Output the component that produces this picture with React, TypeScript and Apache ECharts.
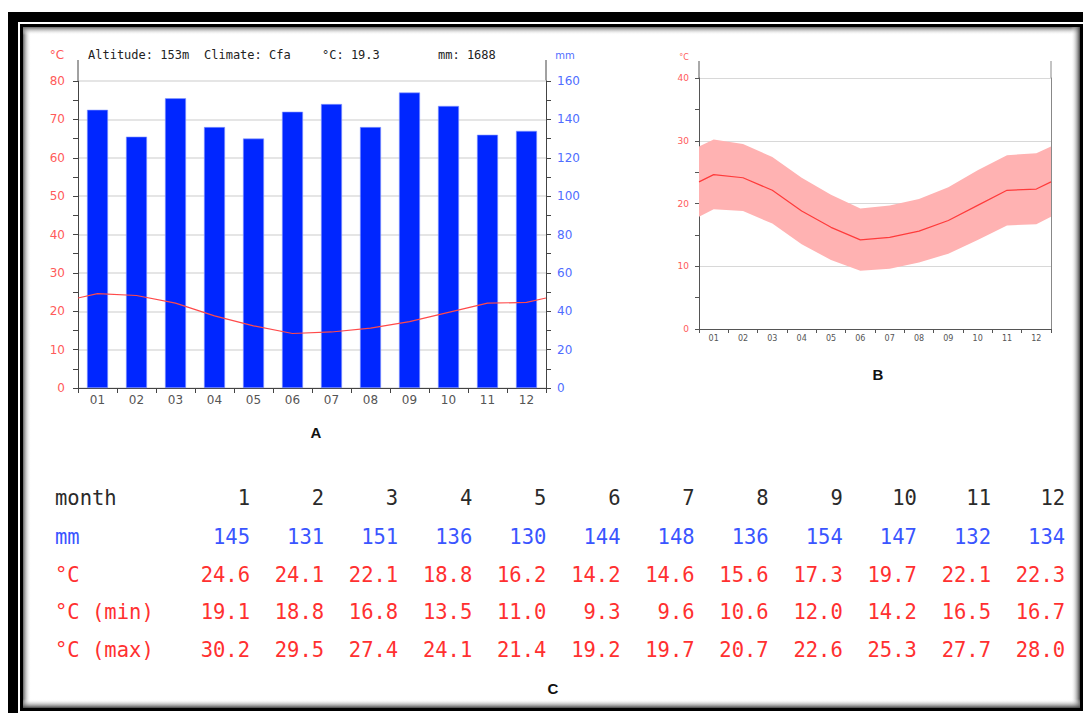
import React, { useEffect, useRef } from "react";
import * as echarts from "echarts";

// ---- data ----
const monthLabels = ["01", "02", "03", "04", "05", "06", "07", "08", "09", "10", "11", "12"];
const monthNumbers = ["1", "2", "3", "4", "5", "6", "7", "8", "9", "10", "11", "12"];
const precipitation = [145, 131, 151, 136, 130, 144, 148, 136, 154, 147, 132, 134];
const tempMean = [24.6, 24.1, 22.1, 18.8, 16.2, 14.2, 14.6, 15.6, 17.3, 19.7, 22.1, 22.3];
const tempMin = [19.1, 18.8, 16.8, 13.5, 11.0, 9.3, 9.6, 10.6, 12.0, 14.2, 16.5, 16.7];
const tempMax = [30.2, 29.5, 27.4, 24.1, 21.4, 19.2, 19.7, 20.7, 22.6, 25.3, 27.7, 28.0];
const altitude = "153m";
const climate = "Cfa";
const tempAxisA = { min: 0, max: 80, interval: 10 };
const precAxisA = { min: 0, max: 160, interval: 20 };
const tempAxisB = { min: 0, max: 40, interval: 10 };

// ---- helpers ----
const edgeValue = (arr: number[]) => (arr[0] + arr[arr.length - 1]) / 2;
const toXY = (arr: number[]) => [
  [0, edgeValue(arr)],
  ...arr.map((v, i) => [i + 0.5, v]),
  [arr.length, edgeValue(arr)],
];

const RED_LABEL = "#ff5a5a";
const BLUE_LABEL = "#4f6dff";
const AXIS = "#444";

export default function App() {
  const ref = useRef<HTMLDivElement>(null);
  useEffect(() => {
    if (!ref.current) return;
    const chart = echarts.init(ref.current, undefined, { renderer: "svg" });

    const annualMean = (tempMean.reduce((a, b) => a + b, 0) / tempMean.length).toFixed(1);
    const annualPrec = precipitation.reduce((a, b) => a + b, 0);

    const lineA = toXY(tempMean);
    const lowerB = toXY(tempMin);
    const upperB = toXY(tempMax);
    const meanB = toXY(tempMean);
    const bandData = lowerB.map((p, i) => [p[0], p[1], upperB[i][1]]);

    // geometry
    const gA = { left: 78, right: 1083 - 546, top: 81, bottom: 713 - 388 };
    const gB = { left: 699, right: 1083 - 1051, top: 78, bottom: 713 - 329 };

    const rows = [
      { label: "month", values: monthNumbers, color: "#2a2a2a" },
      { label: "mm", values: precipitation.map(String), color: "#3a55ff" },
      { label: "°C", values: tempMean.map((v) => v.toFixed(1)), color: "#ff3030" },
      { label: "°C (min)", values: tempMin.map((v) => v.toFixed(1)), color: "#ff3030" },
      { label: "°C (max)", values: tempMax.map((v) => v.toFixed(1)), color: "#ff3030" },
    ];
    const rowY = [498, 537, 575, 612, 650];
    const colRight0 = 250;
    const colStep = 74.1;
    const tableFont = "DejaVu Sans Mono";

    const tableTexts: any[] = [];
    rows.forEach((r, ri) => {
      tableTexts.push({
        type: "text",
        x: 55,
        y: rowY[ri],
        style: { text: r.label, fill: r.color, fontFamily: tableFont, fontSize: 20.5, align: "left", verticalAlign: "middle" },
      });
      r.values.forEach((v, ci) => {
        tableTexts.push({
          type: "text",
          x: colRight0 + colStep * ci,
          y: rowY[ri],
          style: { text: v, fill: r.color, fontFamily: tableFont, fontSize: 20.5, align: "right", verticalAlign: "middle" },
        });
      });
    });

    const hdr = (text: string, x: number, color = "#222", size = 12) => ({
      type: "text",
      x,
      y: 55,
      style: { text, fill: color, fontFamily: "DejaVu Sans Mono", fontSize: size, align: "left", verticalAlign: "middle" },
    });

    const grad = (x2: number, y2: number, c1: string, c2: string) =>
      new echarts.graphic.LinearGradient(0, 0, x2, y2, [
        { offset: 0, color: c1 },
        { offset: 1, color: c2 },
      ]);

    const background: any[] = [
      { type: "rect", z: -100, shape: { x: 8, y: 12, width: 1075, height: 701 }, style: { fill: "#000" } },
      { type: "rect", z: -99, shape: { x: 18, y: 22, width: 1065, height: 691 }, style: { fill: "#fff" } },
      { type: "rect", z: -98, shape: { x: 20, y: 24, width: 1063, height: 687 }, style: { fill: "#000" } },
      { type: "rect", z: -97, shape: { x: 23, y: 27, width: 1057, height: 681 }, style: { fill: "#fff" } },
      { type: "rect", z: -96, shape: { x: 23, y: 27, width: 8, height: 681 }, style: { fill: grad(1, 0, "#666", "rgba(255,255,255,0)") } },
      { type: "rect", z: -96, shape: { x: 23, y: 27, width: 1057, height: 8 }, style: { fill: grad(0, 1, "#666", "rgba(255,255,255,0)") } },
      { type: "rect", z: -96, shape: { x: 1071, y: 27, width: 9, height: 681 }, style: { fill: grad(1, 0, "rgba(255,255,255,0)", "#444") } },
      { type: "rect", z: -96, shape: { x: 23, y: 699, width: 1057, height: 9 }, style: { fill: grad(0, 1, "rgba(255,255,255,0)", "#444") } },
    ];

    const axisExt: any[] = [
      { type: "line", shape: { x1: 78, y1: 60, x2: 78, y2: 81 }, style: { stroke: AXIS, lineWidth: 1 } },
      { type: "line", shape: { x1: 546, y1: 60, x2: 546, y2: 81 }, style: { stroke: AXIS, lineWidth: 1 } },
      { type: "line", shape: { x1: 699, y1: 61, x2: 699, y2: 78 }, style: { stroke: "#555", lineWidth: 1 } },
      { type: "line", shape: { x1: 1051, y1: 61, x2: 1051, y2: 78 }, style: { stroke: "#888", lineWidth: 1 } },
    ];

    const letter = (text: string, x: number, y: number) => ({
      type: "text",
      x,
      y,
      style: { text, fill: "#111", fontFamily: "Liberation Sans", fontWeight: "bold", fontSize: 15, align: "center", verticalAlign: "middle" },
    });

    const option: any = {
      animation: false,
      textStyle: { fontFamily: "DejaVu Sans" },
      grid: [
        { ...gA, containLabel: false },
        { ...gB, containLabel: false },
      ],
      xAxis: [
        {
          gridIndex: 0,
          type: "category",
          data: monthLabels,
          boundaryGap: true,
          axisLine: { lineStyle: { color: AXIS } },
          axisTick: { show: true, length: 5, lineStyle: { color: AXIS } },
          axisLabel: { color: "#555", fontSize: 12, margin: 6 },
        },
        { gridIndex: 0, type: "value", min: 0, max: 12, show: false },
        {
          gridIndex: 1,
          type: "category",
          data: monthLabels,
          boundaryGap: true,
          axisLine: { lineStyle: { color: "#555" } },
          axisTick: { show: true, length: 4, lineStyle: { color: "#555" } },
          axisLabel: { color: "#555", fontSize: 8, margin: 5 },
        },
        { gridIndex: 1, type: "value", min: 0, max: 12, show: false },
      ],
      yAxis: [
        {
          gridIndex: 0,
          type: "value",
          position: "left",
          ...tempAxisA,
          axisLine: { show: true, lineStyle: { color: AXIS } },
          axisTick: { show: true, length: 5, lineStyle: { color: AXIS } },
          minorTick: { show: true, splitNumber: 2, length: 5, lineStyle: { color: AXIS } },
          splitLine: { show: true, lineStyle: { color: "#dcdcdc", width: 1.5 } },
          axisLabel: { color: RED_LABEL, fontSize: 12, margin: 13 },
        },
        {
          gridIndex: 0,
          type: "value",
          position: "right",
          ...precAxisA,
          axisLine: { show: true, lineStyle: { color: AXIS } },
          axisTick: { show: true, length: 5, lineStyle: { color: AXIS } },
          minorTick: { show: true, splitNumber: 2, length: 5, lineStyle: { color: AXIS } },
          splitLine: { show: false },
          axisLabel: { color: BLUE_LABEL, fontSize: 12, margin: 11 },
        },
        {
          gridIndex: 1,
          type: "value",
          position: "left",
          ...tempAxisB,
          axisLine: { show: true, lineStyle: { color: "#555" } },
          axisTick: { show: true, length: 4, lineStyle: { color: "#555" } },
          minorTick: { show: true, splitNumber: 2, length: 4, lineStyle: { color: "#555" } },
          splitLine: { show: true, lineStyle: { color: "#d8d8d8", width: 1 } },
          axisLabel: { color: RED_LABEL, fontSize: 9, margin: 10 },
        },
        {
          gridIndex: 1,
          type: "value",
          position: "right",
          ...tempAxisB,
          axisLine: { show: true, lineStyle: { color: "#888" } },
          axisTick: { show: false },
          splitLine: { show: false },
          axisLabel: { show: false },
        },
      ],
      series: [
        {
          type: "bar",
          xAxisIndex: 0,
          yAxisIndex: 1,
          data: precipitation,
          barWidth: 21,
          itemStyle: { color: "#0026ff", borderColor: "#8a9cff", borderWidth: 0.6 },
          z: 2,
        },
        {
          type: "line",
          xAxisIndex: 1,
          yAxisIndex: 0,
          data: lineA,
          symbol: "none",
          lineStyle: { color: "#ff4a4a", width: 1.2 },
          z: 3,
        },
        {
          type: "custom",
          xAxisIndex: 3,
          yAxisIndex: 2,
          data: bandData,
          encode: { x: 0, y: [1, 2] },
          z: 2,
          renderItem: (params: any, api: any) => {
            if (params.dataIndex !== 0) return null;
            const n = bandData.length;
            const top: number[][] = [];
            const bottom: number[][] = [];
            for (let i = 0; i < n; i++) {
              const x = api.value(0, i);
              top.push(api.coord([x, api.value(2, i)]));
              bottom.push(api.coord([x, api.value(1, i)]));
            }
            return {
              type: "polygon",
              shape: { points: top.concat(bottom.reverse()) },
              style: { fill: "#ffb2b2" },
            };
          },
        },
        {
          type: "line",
          xAxisIndex: 3,
          yAxisIndex: 2,
          data: meanB,
          symbol: "none",
          lineStyle: { color: "#ff3b3b", width: 1.2 },
          z: 3,
        },
      ],
      graphic: [
        ...background,
        ...axisExt,
        {
          type: "text",
          x: 57,
          y: 55,
          style: { text: "°C", fill: RED_LABEL, fontFamily: "DejaVu Sans", fontSize: 12, align: "center", verticalAlign: "middle" },
        },
        hdr(`Altitude: ${altitude}`, 88),
        hdr(`Climate: ${climate}`, 204),
        hdr(`°C: ${annualMean}`, 322),
        hdr(`mm: ${annualPrec}`, 438),
        {
          type: "text",
          x: 565,
          y: 55,
          style: { text: "mm", fill: BLUE_LABEL, fontFamily: "DejaVu Sans", fontSize: 10, align: "center", verticalAlign: "middle" },
        },
        {
          type: "text",
          x: 684,
          y: 57,
          style: { text: "°C", fill: RED_LABEL, fontFamily: "DejaVu Sans", fontSize: 8, align: "center", verticalAlign: "middle" },
        },
        letter("A", 316, 432),
        letter("B", 878, 374),
        letter("C", 553, 688),
        ...tableTexts,
      ],
    };

    chart.setOption(option);
    return () => chart.dispose();
  }, []);

  return (
    <div
      ref={ref}
      style={{ position: "fixed", left: 0, top: 0, width: 1083, height: 713, background: "#fff" }}
    />
  );
}
